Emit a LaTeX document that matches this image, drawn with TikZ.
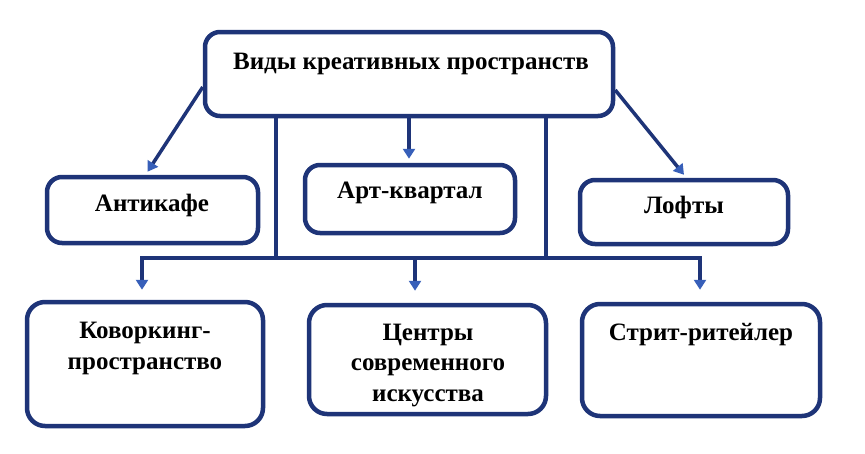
\documentclass[tikz,border=0pt]{standalone}
\usepackage{fontspec}
\setmainfont{Liberation Serif}
\usetikzlibrary{arrows.meta}
\definecolor{navy}{RGB}{30,52,120}
\definecolor{tipblue}{RGB}{55,95,185}
\begin{document}
\begin{tikzpicture}[x=1pt,y=-1pt,
  box/.style={draw=navy, line width=4.5pt, rounded corners=15pt, fill=white, inner sep=0pt},
  conn/.style={draw=navy, line width=3.5pt},
  arr/.style={conn, -{Triangle[width=12pt,length=10pt,fill=tipblue,color=tipblue]}},
  lbl/.style={font=\bfseries\fontsize{25}{30.5}\selectfont, align=center, inner sep=0pt, anchor=base}]
\useasboundingbox[fill=white] (0,0) rectangle (865,453);
% boxes
\node[box, minimum width=408pt, minimum height=84pt] (top) at (409,74) {};
\node[box, minimum width=211pt, minimum height=66pt] (anti) at (152.5,210) {};
\node[box, minimum width=210pt, minimum height=68pt] (art) at (410,199) {};
\node[box, minimum width=208pt, minimum height=64pt] (loft) at (684,212) {};
\node[box, minimum width=236pt, minimum height=124pt, rounded corners=18pt] (kov) at (145,364) {};
\node[box, minimum width=237pt, minimum height=109pt, rounded corners=18pt] (cen) at (427.5,359.5) {};
\node[box, minimum width=238pt, minimum height=112pt, rounded corners=18pt] (str) at (701,360) {};
% texts (base = baseline of last line)
\node[lbl] (t0) at (411,69) {Виды креативных пространств};
\node[lbl] (t1) at (152,211) {Антикафе};
\node[lbl] (t2) at (410,198) {Арт-квартал};
\node[lbl] (t3) at (684,213) {Лофты};
\node[lbl] (t4) at (145,369) {Коворкинг-\\пространство};
\node[lbl] (t5) at (428,401) {Центры\\современного\\искусства};
\node[lbl] (t6) at (701,340) {Стрит-ритейлер};
% connectors
\coordinate (j1) at (276,258);
\coordinate (j2) at (546,258);
\coordinate (bl) at (142,258);
\coordinate (bm) at (415,258);
\coordinate (br) at (700,258);
\draw[arr] ([yshift=-13pt]top.west) -- ([xshift=-5pt,yshift=3pt]anti.north);
\draw[arr] ([yshift=-16pt]top.east) -- ([yshift=3pt]loft.north);
\draw[arr] (top.south -| 409,0) -- ([yshift=4pt]art.north -| 409,0);
\draw[conn] (top.south -| j1) -- (j1);
\draw[conn] (top.south -| j2) -- (j2);
\draw[conn, line cap=rect] (bl) -- (br);
\draw[arr] (bl) -- ([yshift=10pt]kov.north -| bl);
\draw[arr] (bm) -- ([yshift=12pt]cen.north -| bm);
\draw[arr] (br) -- ([yshift=12pt]str.north -| br);
\end{tikzpicture}
\end{document}
